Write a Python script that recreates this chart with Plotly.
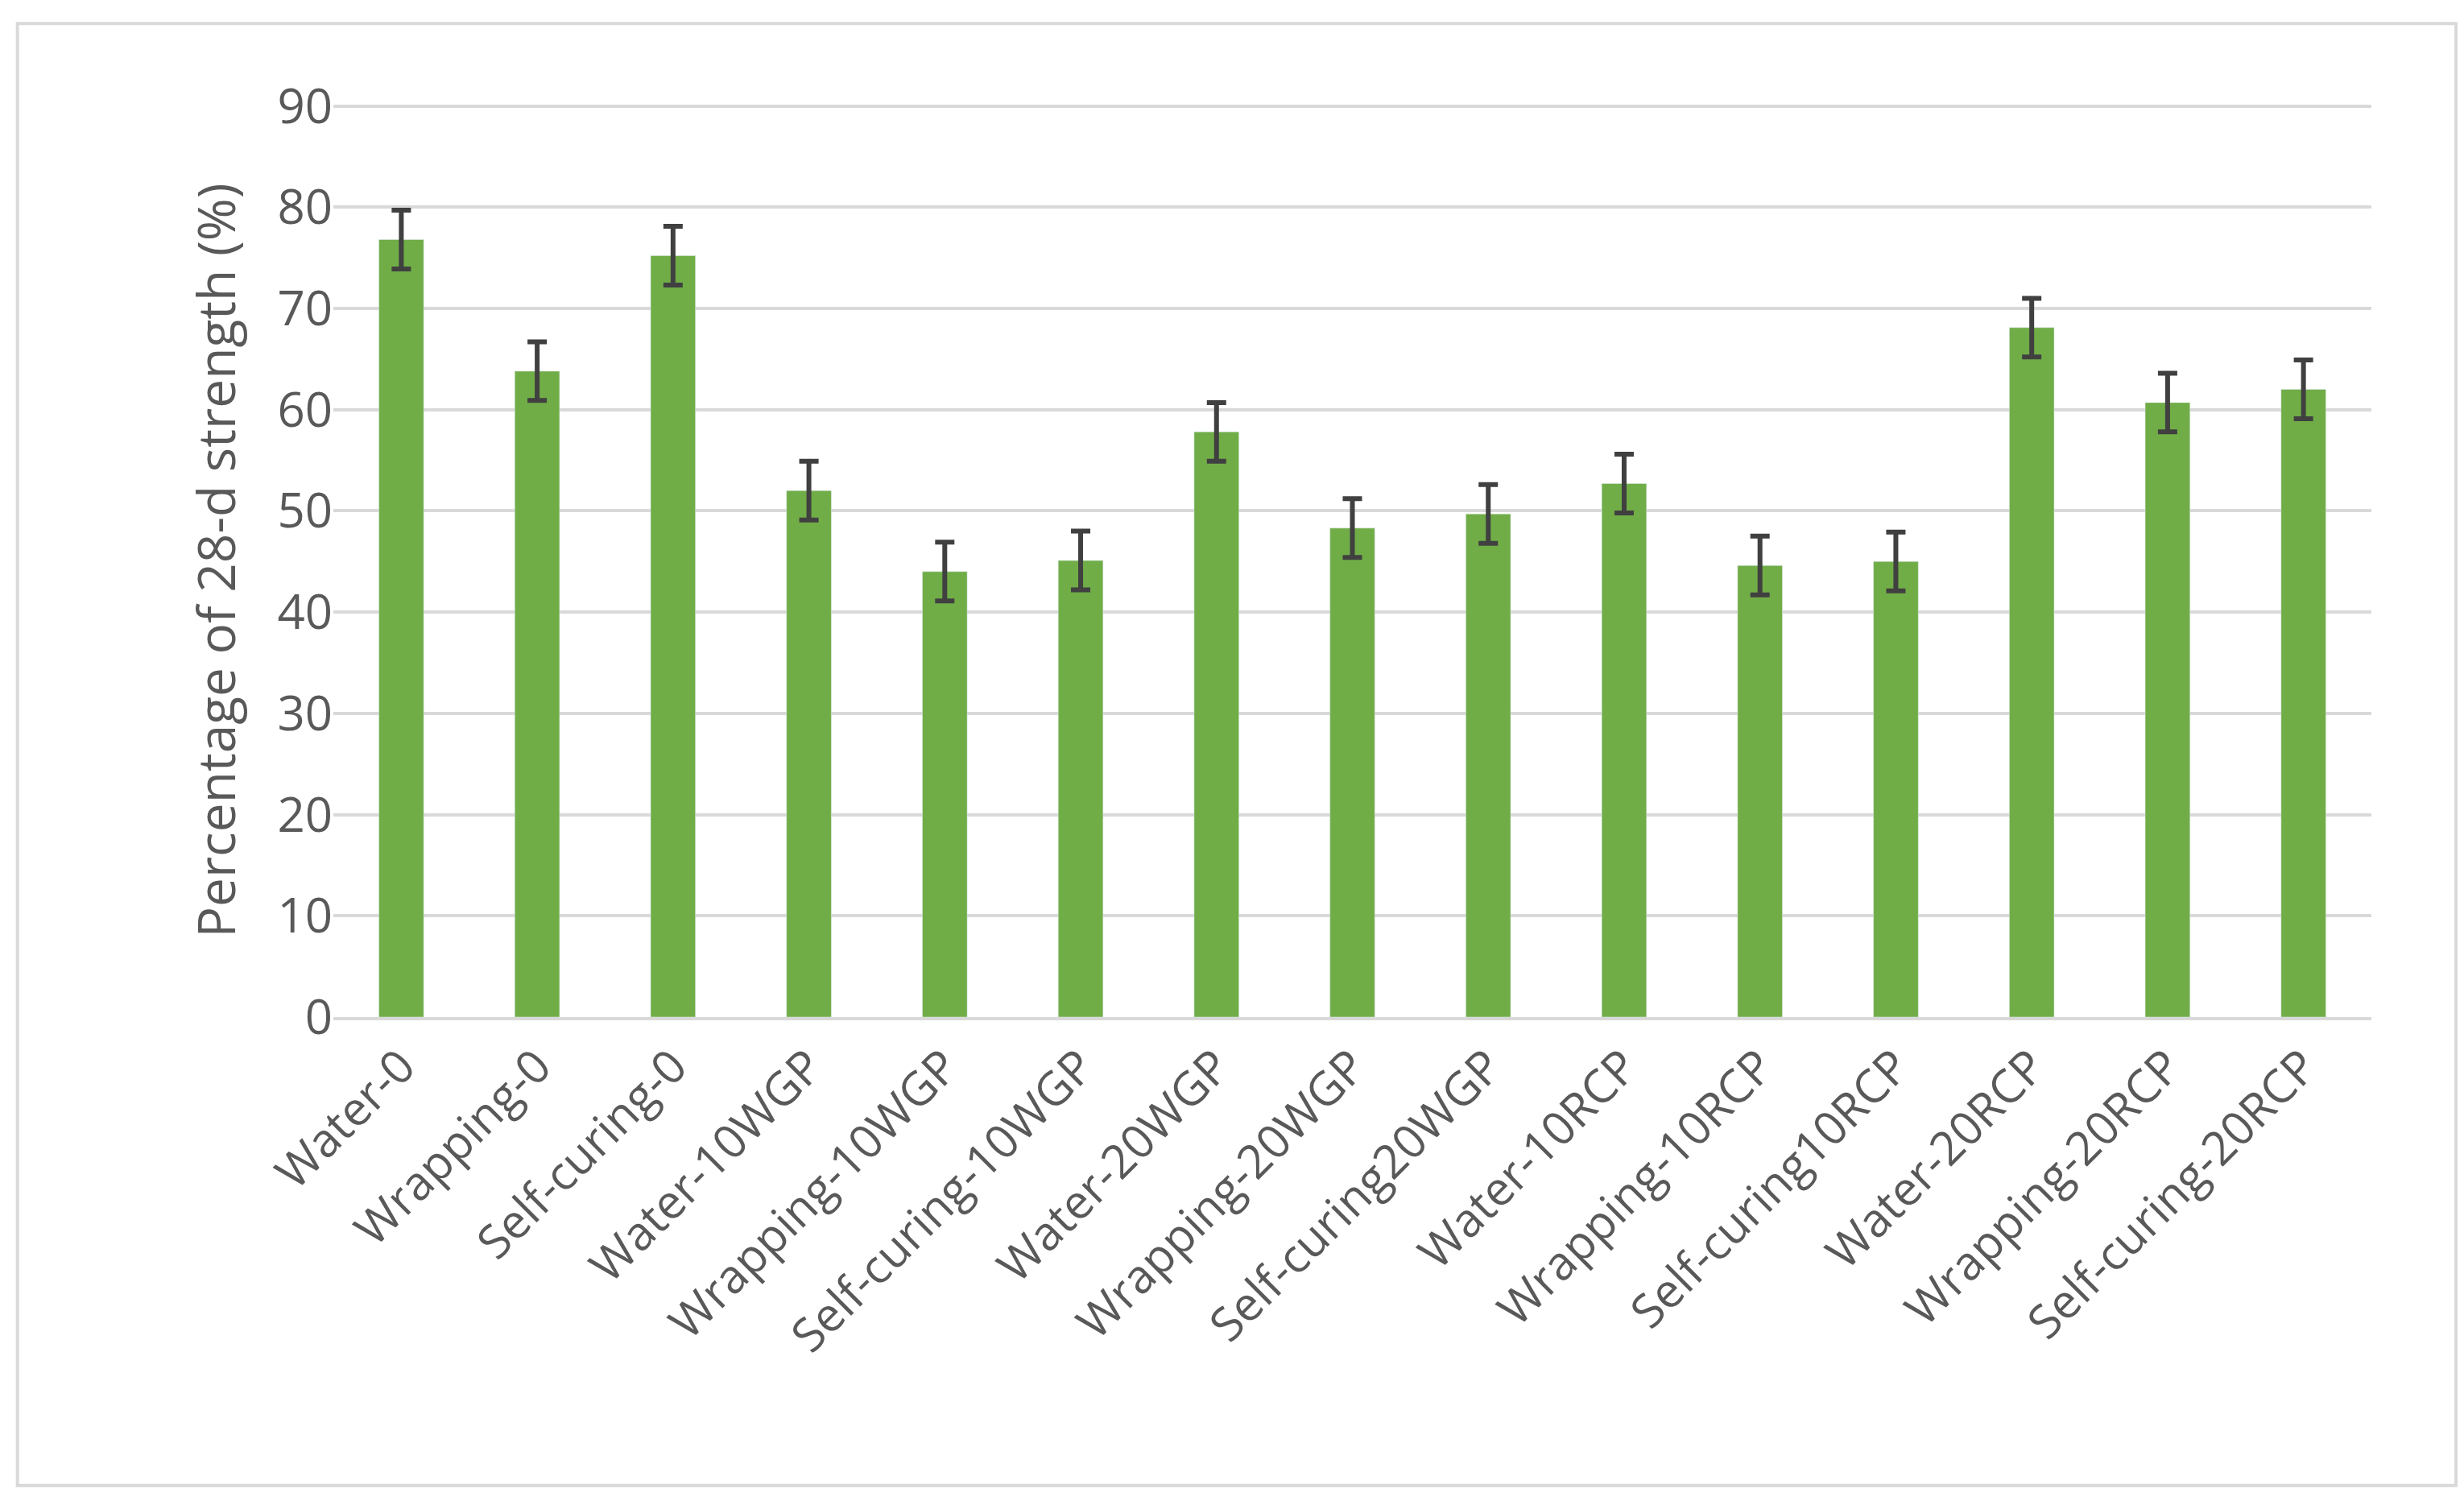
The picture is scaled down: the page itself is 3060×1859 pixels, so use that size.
import plotly.graph_objects as go

categories = ["Water-0","Wrapping-0","Self-curing-0","Water-10WGP","Wrapping-10WGP","Self-curing-10WGP",
              "Water-20WGP","Wrapping-20WGP","Self-curing20WGP","Water-10RCP","Wrapping-10RCP",
              "Self-curing10RCP","Water-20RCP","Wrapping-20RCP","Self-curing-20RCP"]
values = [76.8,63.8,75.2,52.0,44.0,45.1,57.8,48.3,49.7,52.7,44.6,45.0,68.1,60.7,62.0]
errors = [2.9]*15

fig = go.Figure(go.Bar(
    x=categories, y=values, width=0.33, marker_color="#70AD47",
    error_y=dict(type="data", array=errors, color="#404040", thickness=6, width=12)))

fig.update_layout(
    width=3060, height=1859, plot_bgcolor="white", paper_bgcolor="white",
    margin=dict(l=406, r=123, t=121, b=604), showlegend=False,
    font=dict(family="Open Sans", color="#595959"),
    shapes=[dict(type="rect", xref="paper", yref="paper", x0=-0.155, x1=1.0415, y0=-0.513, y1=1.088,
                 line=dict(color="#D9D9D9", width=4))])
fig.update_yaxes(range=[0, 90.2], dtick=10, gridcolor="#D9D9D9", gridwidth=4,
                 tickfont=dict(size=60), zeroline=False, ticks="", ticklen=20, tickcolor="white",
                 title=dict(text="Percentage of 28-d strength (%)", font=dict(size=64), standoff=30))
fig.update_xaxes(tickangle=-45, tickfont=dict(size=58), showline=True, linecolor="#D9D9D9", linewidth=4)
fig.write_html("out.html")
